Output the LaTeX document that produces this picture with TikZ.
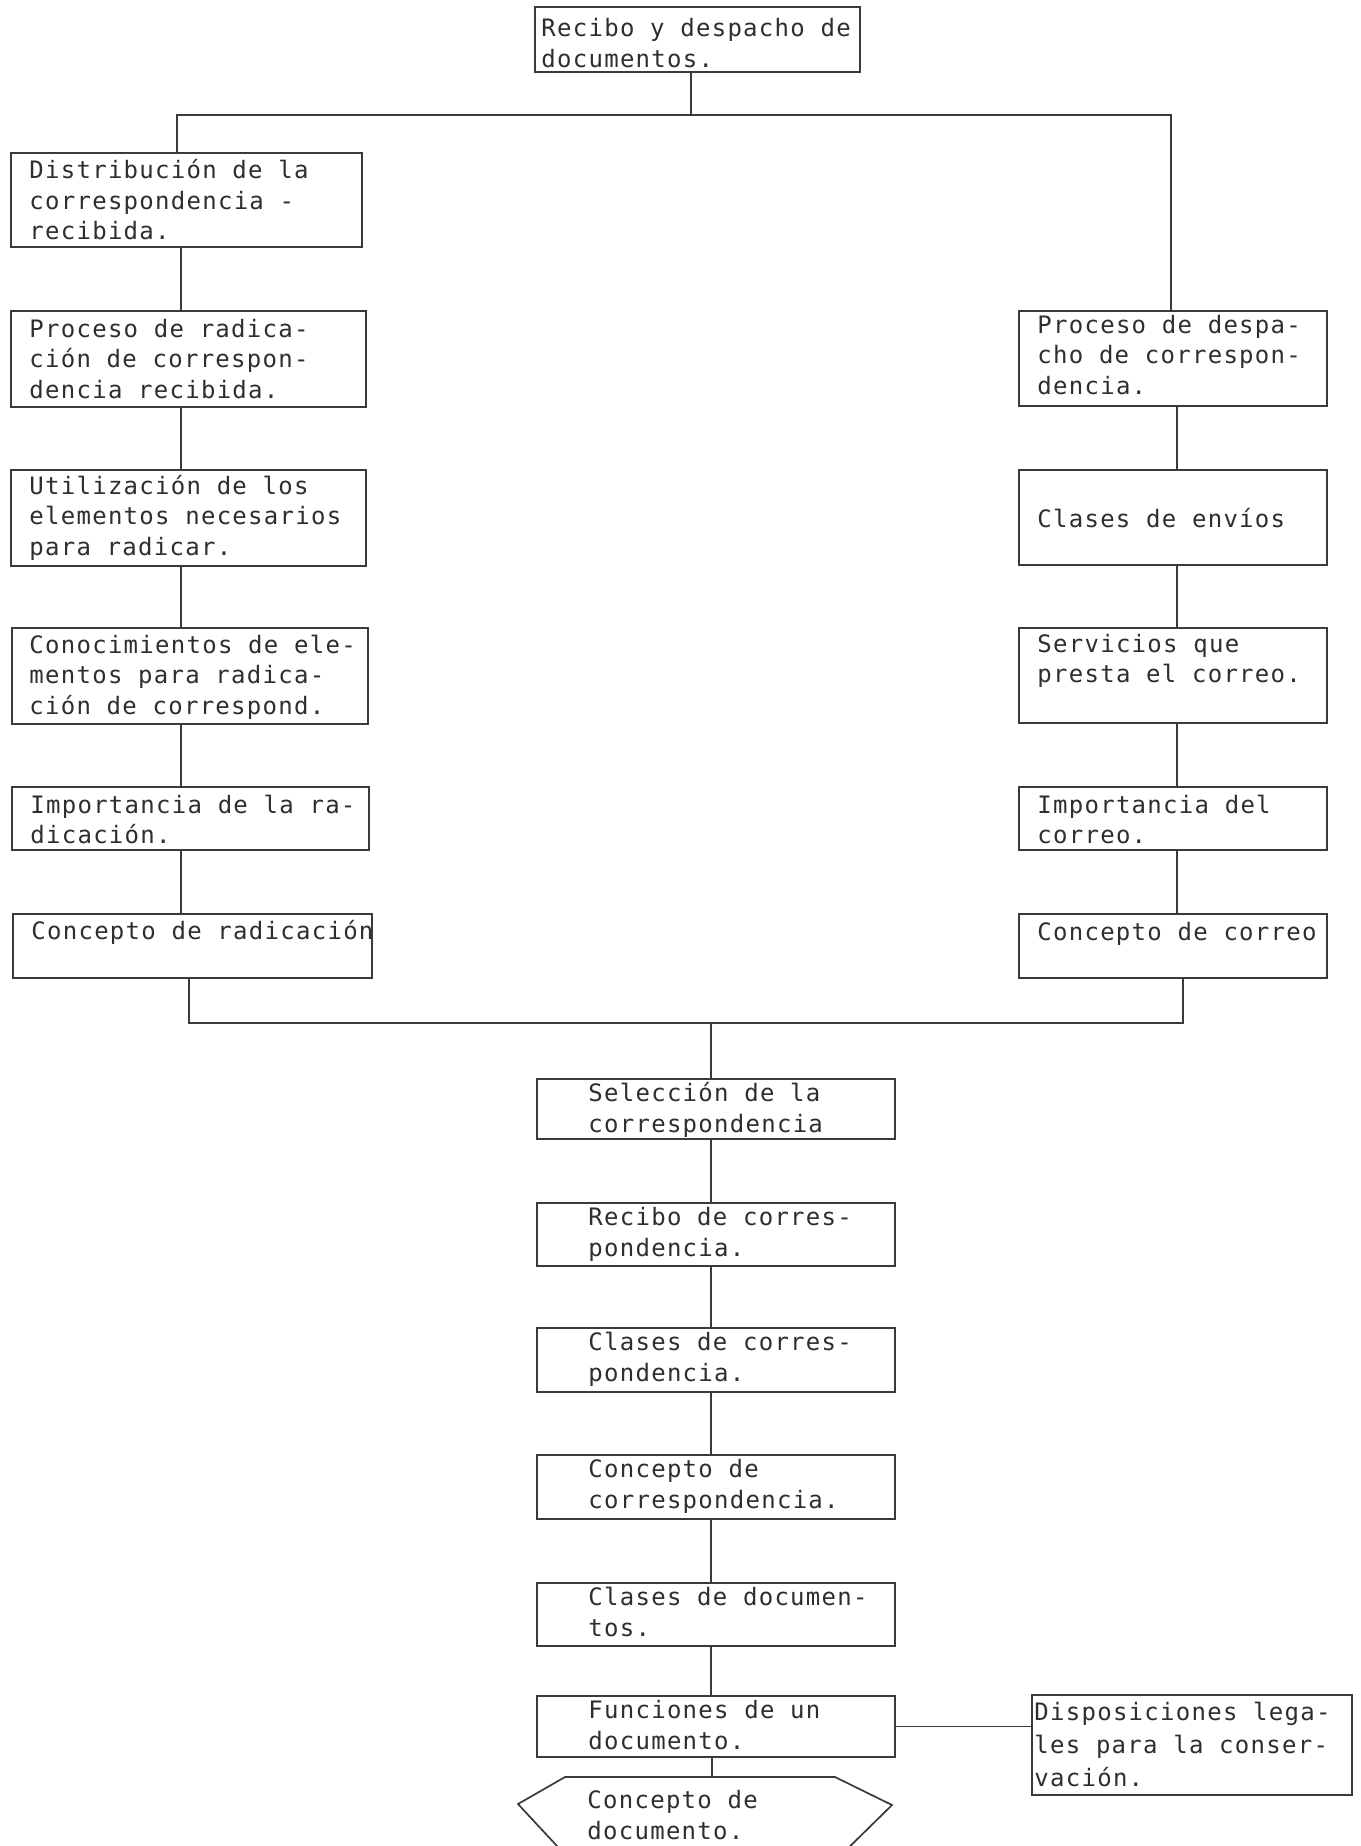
\documentclass[tikz,border=0pt]{standalone}
\usepackage{fontspec}
\newfontfamily\typew[LetterSpace=5.3]{DejaVu Sans Mono}
\usetikzlibrary{fit}
\newcommand{\tlines}[1]{\begin{tabular}[t]{@{}l@{}}#1\end{tabular}}
\definecolor{ink}{HTML}{2E2E2E}
\definecolor{rule}{HTML}{3A3A3A}

\begin{document}
\begin{tikzpicture}[x=0.5pt,y=-0.5pt,
  box/.style={draw=rule, line width=0.85pt, inner sep=0pt},
  txt/.style={anchor=base west, inner sep=0pt, text=ink,
    font=\typew\fontsize{12pt}{15.25pt}\selectfont},
  ctxt/.style={txt, font=\typew\fontsize{12pt}{15.75pt}\selectfont},
  dtxt/.style={txt, font=\typew\fontsize{12pt}{16.5pt}\selectfont},
  link/.style={draw=rule, line width=0.75pt}]
\useasboundingbox (0,0) rectangle (1360,1846);
\fill[white] (0,0) rectangle (1360,1846);
\clip (0,0) rectangle (1360,1846);

% ---- boxes ----
\node[box, fit={(535,7) (860,72)}] (T) {};
\node[txt] (T-t) at (541,37) {\tlines{Recibo y despacho de\\documentos.}};

% left branch
\node[box, fit={(11,153) (362,247)}] (L1) {};
\node[txt] (L1-t) at (29,179) {\tlines{Distribución de la\\correspondencia -\\recibida.}};
\node[box, fit={(11,311) (366,407)}] (L2) {};
\node[txt] (L2-t) at (29,337) {\tlines{Proceso de radica-\\ción de correspon-\\dencia recibida.}};
\node[box, fit={(11,470) (366,566)}] (L3) {};
\node[txt] (L3-t) at (29,494) {\tlines{Utilización de los\\elementos necesarios\\para radicar.}};
\node[box, fit={(12,628) (368,724)}] (L4) {};
\node[txt] (L4-t) at (29,653) {\tlines{Conocimientos de ele-\\mentos para radica-\\ción de correspond.}};
\node[box, fit={(12,787) (369,850)}] (L5) {};
\node[txt] (L5-t) at (30,813) {\tlines{Importancia de la ra-\\dicación.}};
\node[box, fit={(13,914) (372,978)}] (L6) {};
\node[txt] (L6-t) at (31,939) {Concepto de radicación};

% right branch
\node[box, fit={(1019,311) (1327,406)}] (R1) {};
\node[txt] (R1-t) at (1037,333) {\tlines{Proceso de despa-\\cho de correspon-\\dencia.}};
\node[box, fit={(1019,470) (1327,565)}] (R2) {};
\node[txt] (R2-t) at (1037,527) {Clases de envíos};
\node[box, fit={(1019,628) (1327,723)}] (R3) {};
\node[txt] (R3-t) at (1037,652) {\tlines{Servicios que\\presta el correo.}};
\node[box, fit={(1019,787) (1327,850)}] (R4) {};
\node[txt] (R4-t) at (1037,813) {\tlines{Importancia del\\correo.}};
\node[box, fit={(1019,914) (1327,978)}] (R5) {};
\node[txt] (R5-t) at (1037,940) {Concepto de correo};

% central chain
\node[box, fit={(537,1079) (895,1139)}] (C1) {};
\node[ctxt] (C1-t) at (588,1101) {\tlines{Selección de la\\correspondencia}};
\node[box, fit={(537,1203) (895,1266)}] (C2) {};
\node[ctxt] (C2-t) at (588,1225) {\tlines{Recibo de corres-\\pondencia.}};
\node[box, fit={(537,1328) (895,1392)}] (C3) {};
\node[ctxt] (C3-t) at (588,1350) {\tlines{Clases de corres-\\pondencia.}};
\node[box, fit={(537,1455) (895,1519)}] (C4) {};
\node[ctxt] (C4-t) at (588,1477) {\tlines{Concepto de\\correspondencia.}};
\node[box, fit={(537,1583) (895,1646)}] (C5) {};
\node[ctxt] (C5-t) at (588,1605) {\tlines{Clases de documen-\\tos.}};
\node[box, fit={(537,1696) (895,1757)}] (C6) {};
\node[ctxt] (C6-t) at (588,1718) {\tlines{Funciones de un\\documento.}};

% hexagon at the foot of the chain
\draw[box] (518,1804) -- (565,1777) -- (835,1777) -- (892,1805)
  -- (836,1860) -- (570,1860) -- cycle;
\coordinate (Htop) at (712,1777);
\node[ctxt] (H-t) at (587,1808) {\tlines{Concepto de\\documento.}};

% side box
\node[box, fit={(1032,1695) (1352,1795)}] (D) {};
\node[dtxt] (D-t) at (1034,1720) {\tlines{Disposiciones lega-\\les para la conser-\\vación.}};

% ---- connectors ----
\coordinate (tx) at (691,0);
\coordinate (lxa) at (177,0);
\coordinate (rxa) at (1171,0);
\coordinate (lx) at (181,0);
\coordinate (rx) at (1177,0);
\coordinate (lb) at (189,0);
\coordinate (rb) at (1183,0);
\coordinate (cx) at (711,0);
\coordinate (busA) at (0,115);
\coordinate (busB) at (0,1023);

\draw[link] (T.south -| tx) -- (busA -| tx);
\draw[link] (L1.north -| lxa) -- (busA -| lxa) -- (busA -| rxa) -- (R1.north -| rxa);

\foreach \a/\b in {L1/L2,L2/L3,L3/L4,L4/L5,L5/L6}
  \draw[link] (\a.south -| lx) -- (\b.north -| lx);
\foreach \a/\b in {R1/R2,R2/R3,R3/R4,R4/R5}
  \draw[link] (\a.south -| rx) -- (\b.north -| rx);

\draw[link] (L6.south -| lb) -- (busB -| lb) -- (busB -| rb) -- (R5.south -| rb);
\draw[link] (busB -| cx) -- (C1.north -| cx);

\foreach \a/\b in {C1/C2,C2/C3,C3/C4,C4/C5,C5/C6}
  \draw[link] (\a.south -| cx) -- (\b.north -| cx);
\draw[link] (C6.south -| Htop) -- (Htop);

\draw[link] (C6.east) -- (C6.east -| D.west);
\end{tikzpicture}
\end{document}
